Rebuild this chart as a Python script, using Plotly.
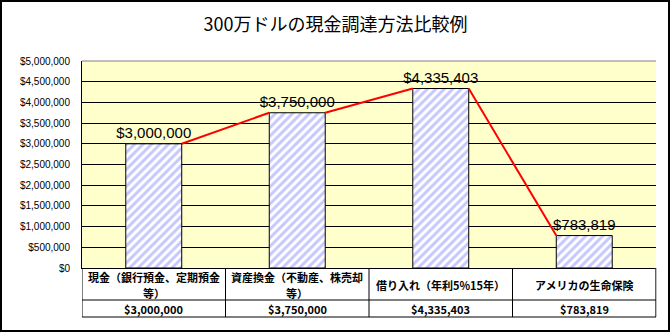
import plotly.graph_objects as go

# ---- data ----
categories = ["現金（銀行預金、定期預金<br>等）", "資産換金（不動産、株売却<br>等）",
              "借り入れ（年利5%15年）", "アメリカの生命保険"]
values = [3000000, 3750000, 4335403, 783819]
row_label = "調達必要額"
title_text = "300万ドルの現金調達方法比較例"
tick_vals = list(range(0, 5000001, 500000))

W, H = 671, 333
ML, MR, MT, MB = 82, 15, 61, 65
PW, PH = W - ML - MR, H - MT - MB
bar_w = 0.39
xs = list(range(len(values)))

def py(p):  # pixel y -> paper y
    return (H - MB - p) / PH

def px(p):  # pixel x -> paper x
    return (p - ML) / PW

def dx(p):  # pixel x -> data x
    return -0.5 + (p - ML) / PW * 4

fig = go.Figure()
fig.add_trace(go.Bar(
    x=xs, y=values, width=bar_w,
    marker=dict(color="white", line=dict(color="black", width=1),
                pattern=dict(shape="/", fgcolor="#8F8FFF", bgcolor="white",
                             size=6, solidity=0.5)),
    texttemplate="%{y:$,.0f}", textposition="outside", constraintext="none",
    textfont=dict(family="Liberation Sans, Arial", size=15, color="black"),
    cliponaxis=False, hoverinfo="skip"))

# series lines (from right top of one bar to left top of next)
lx, ly = [], []
for i in range(len(values) - 1):
    lx += [xs[i] + bar_w / 2, xs[i + 1] - bar_w / 2, None]
    ly += [values[i], values[i + 1], None]
fig.add_trace(go.Scatter(x=lx, y=ly, mode="lines",
                         line=dict(color="#FF0000", width=2), hoverinfo="skip"))

shapes = []
# plot area top/right gray border
shapes.append(dict(type="line", xref="paper", yref="paper", x0=0, x1=1, y0=1, y1=1,
                   line=dict(color="#808080", width=1)))
shapes.append(dict(type="line", xref="paper", yref="paper", x0=1, x1=1, y0=0, y1=py(317),
                   line=dict(color="#808080", width=1)))
# table lines
y_row1 = py(300)
y_row2 = py(317)
for i in range(len(values) + 1):
    xv = i - 0.5
    shapes.append(dict(type="line", xref="x", yref="paper", x0=xv, x1=xv, y0=0, y1=y_row2,
                       line=dict(color="black", width=1)))
shapes.append(dict(type="line", xref="x", yref="paper", x0=dx(17), x1=dx(17), y0=y_row1, y1=y_row2,
                   line=dict(color="black", width=1)))
for yy in (y_row1, y_row2):
    shapes.append(dict(type="line", xref="x", yref="paper", x0=dx(17), x1=3.5, y0=yy, y1=yy,
                       line=dict(color="black", width=1)))
# outer border
shapes.append(dict(type="rect", xref="paper", yref="paper",
                   x0=px(1), x1=px(669), y0=py(1), y1=py(331),
                   line=dict(color="black", width=2)))

tfont = dict(family="Noto Sans CJK JP", size=11, color="black")
ann = []
for i, c in enumerate(categories):
    lines = c.split("<br>")
    if len(lines) == 1:
        ys = [284.5]
    else:
        ys = [276.5, 292.5]
    for ln, yp in zip(lines, ys):
        ann.append(dict(x=xs[i], y=py(yp), xref="x", yref="paper", text="<b>%s</b>" % ln,
                        showarrow=False, font=tfont, xanchor="center", yanchor="middle"))
    ann.append(dict(x=xs[i], y=py(309), xref="x", yref="paper",
                    text="<b>${:,}</b>".format(values[i]),
                    showarrow=False, font=tfont, xanchor="center", yanchor="middle"))
ann.append(dict(x=dx(19), y=py(309), xref="x", yref="paper", text="<b>%s</b>" % row_label,
                showarrow=False, font=tfont, xanchor="left", yanchor="middle"))

fig.update_layout(
    width=W, height=H,
    margin=dict(l=ML, r=MR, t=MT, b=MB),
    paper_bgcolor="white", plot_bgcolor="#FFFFCC",
    showlegend=False,
    title=dict(text=title_text, x=0.5, xanchor="center", y=1 - 25 / H, yanchor="middle",
               font=dict(family="Noto Sans CJK JP", size=18, color="black")),
    xaxis=dict(range=[-0.5, 3.5], showticklabels=False, showgrid=False, zeroline=False,
               showline=True, linecolor="black", linewidth=1, fixedrange=True),
    yaxis=dict(range=[0, 5000000], tickvals=tick_vals, tickformat="$,.0f",
               showgrid=True, gridcolor="black", gridwidth=1, zeroline=False,
               showline=True, linecolor="black", linewidth=1, ticks="",
               ticklabelstandoff=9,
               tickfont=dict(family="Liberation Sans, Arial", size=10, color="black")),
    shapes=shapes, annotations=ann,
)
fig.write_html("out.html")
